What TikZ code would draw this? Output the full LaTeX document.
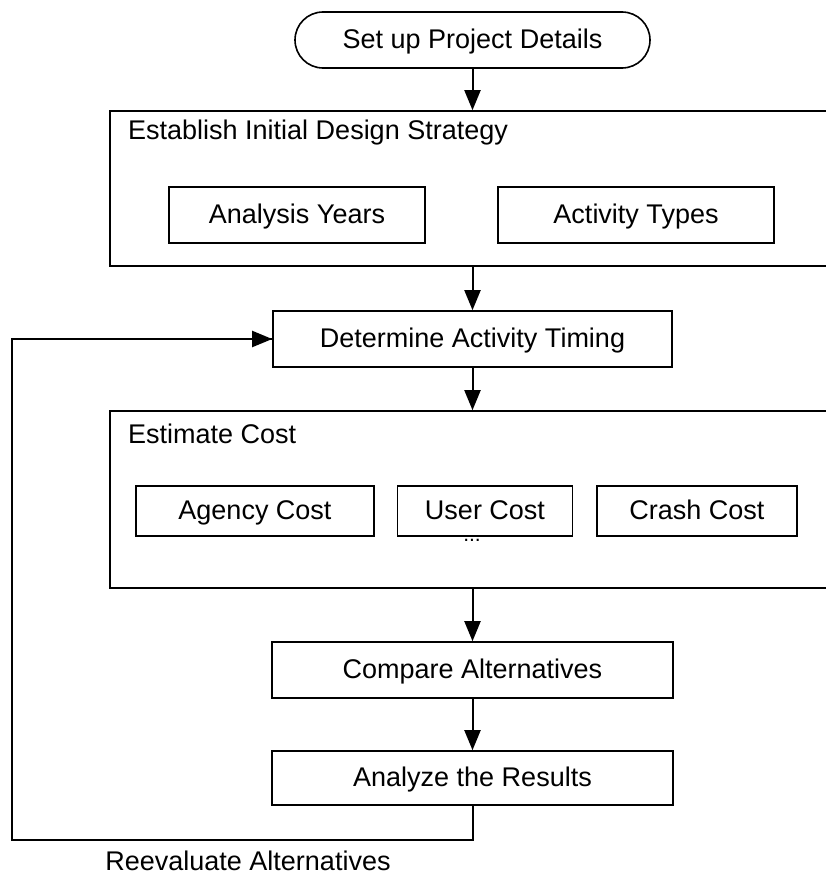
\documentclass[tikz,border=0pt]{standalone}
\usepackage{fontspec}
\setmainfont{Liberation Sans}
\usetikzlibrary{arrows.meta}
\begin{document}
\begin{tikzpicture}[x=1pt,y=-1pt,
  every node/.style={font=\fontsize{27}{31}\selectfont},
  box/.style={draw, line width=1.6pt, rectangle, inner sep=0pt, align=center, text depth=0.2em},
  frame/.style={draw, line width=1.6pt, rectangle, inner sep=0pt},
  title/.style={anchor=west, inner sep=0pt},
  conn/.style={line width=2pt, -{Triangle[length=20pt,width=16pt]}},
  line/.style={line width=2pt}
]
\useasboundingbox (0,0) rectangle (825,875);
% start
\node[box, rounded corners=28pt, minimum width=355pt, minimum height=56pt] (start) at (472.5,40) {Set up Project Details};
% establish frame
\node[frame, minimum width=717pt, minimum height=155pt] (b1) at (468.5,188.5) {};
\node[title] (b1t) at (128,133) {Establish Initial Design Strategy};
\node[box, minimum width=256pt, minimum height=56pt] (ay) at (297,215) {Analysis Years};
\node[box, minimum width=276pt, minimum height=56pt] (at) at (636,215) {Activity Types};
% timing
\node[box, minimum width=399pt, minimum height=56pt] (tim) at (472.5,339) {Determine Activity Timing};
% estimate frame
\node[frame, minimum width=717pt, minimum height=177pt] (b2) at (468.5,499.5) {};
\node[title] (b2t) at (128,434) {Estimate Cost};
\node[box, minimum width=238pt, minimum height=50pt] (ag) at (255,511) {Agency Cost};
\node[box, minimum width=175pt, minimum height=50pt] (us) at (485,511) {User Cost};
\node[box, minimum width=200pt, minimum height=50pt] (cr) at (697,511) {Crash Cost};
\node[inner sep=0pt, anchor=north, font=\fontsize{21}{23}\selectfont] (dots) at (472,539.5) {...};
% compare / analyze
\node[box, minimum width=401pt, minimum height=56pt] (cmp) at (472.5,670) {Compare Alternatives};
\node[box, minimum width=401pt, minimum height=54pt] (ana) at (472.5,778) {Analyze the Results};
% connectors
\draw[conn] (start.south) -- (start.south |- b1.north);
\draw[conn] (472.5,0 |- b1.south) -- (tim.north);
\draw[conn] (tim.south) -- (tim.south |- b2.north);
\draw[conn] (472.5,0 |- b2.south) -- (cmp.north);
\draw[conn] (cmp.south) -- (ana.north);
\coordinate (fb1) at (472.5,840);
\coordinate (fb2) at (12,840);
\draw[line, line join=miter] (ana.south) -- (fb1) -- (fb2) -- (fb2 |- tim.west) -- (tim.west);
\draw[conn] (fb2 |- tim.west) -- (tim.west);
\node[inner sep=0pt] (lbl) at (248,861) {Reevaluate Alternatives};
\end{tikzpicture}
\end{document}
